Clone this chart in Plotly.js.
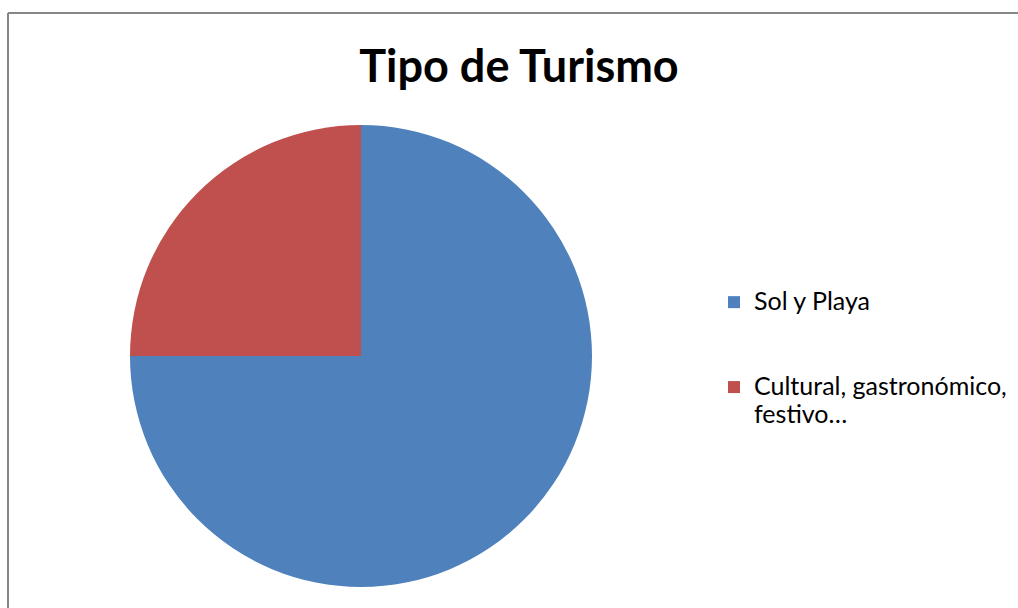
<!DOCTYPE html>
<html>
<head>
<meta charset="utf-8">
<script src="https://cdn.plot.ly/plotly-3.0.1.min.js"></script>
<style>html,body{margin:0;padding:0;background:#fff;}#chart{width:1018px;height:608px;}</style>
</head>
<body>
<div id="chart"></div>
<script>
const categories = ["Sol y Playa", "Cultural, gastronómico,<br>festivo…"];
const values = [75, 25];
const colors = ["#4F81BD", "#C0504D"];
const chartTitle = "Tipo de Turismo";

const W = 1018, H = 608;
function big(s) {
  return s.split("<br>").map(function (p) { return "<span style='font-size:25px'>" + p + "</span>"; }).join("<br>");
}
const legendLabels = [big(categories[0]) + "<br> <br> ", big(categories[1])];

const trace = {
  type: "pie",
  labels: legendLabels,
  values: values,
  sort: false,
  direction: "clockwise",
  rotation: 0,
  textinfo: "none",
  hoverinfo: "value+percent",
  marker: { colors: colors, line: { width: 0 } },
  domain: { x: [130 / W, 592 / W], y: [(H - 587) / H, (H - 125) / H] }
};

const layout = {
  width: W, height: H,
  margin: { l: 0, r: 0, t: 0, b: 0 },
  paper_bgcolor: "#ffffff",
  font: { family: "Lato, 'Liberation Sans', sans-serif", color: "#000" },
  title: {
    text: "<b>" + chartTitle + "</b>",
    font: { family: "Lato, sans-serif", size: 45, color: "#000" },
    x: 519 / W, xanchor: "center", xref: "paper",
    y: (H - 66) / H, yanchor: "middle", yref: "paper"
  },
  showlegend: true,
  legend: {
    x: 714 / W, xanchor: "left",
    y: (H - 282) / H, yanchor: "top",
    valign: "top",
    bgcolor: "rgba(0,0,0,0)",
    font: { family: "Lato, sans-serif", size: 21, color: "#000" }
  },
  shapes: [
    { type: "line", xref: "paper", yref: "paper", x0: 8 / W, x1: 8 / W, y0: 0, y1: (H - 13) / H, line: { color: "#878787", width: 2 } },
    { type: "line", xref: "paper", yref: "paper", x0: 8 / W, x1: 1, y0: (H - 13) / H, y1: (H - 13) / H, line: { color: "#878787", width: 2 } }
  ]
};

Plotly.newPlot("chart", [trace], layout, { displayModeBar: false });
</script>
</body>
</html>
